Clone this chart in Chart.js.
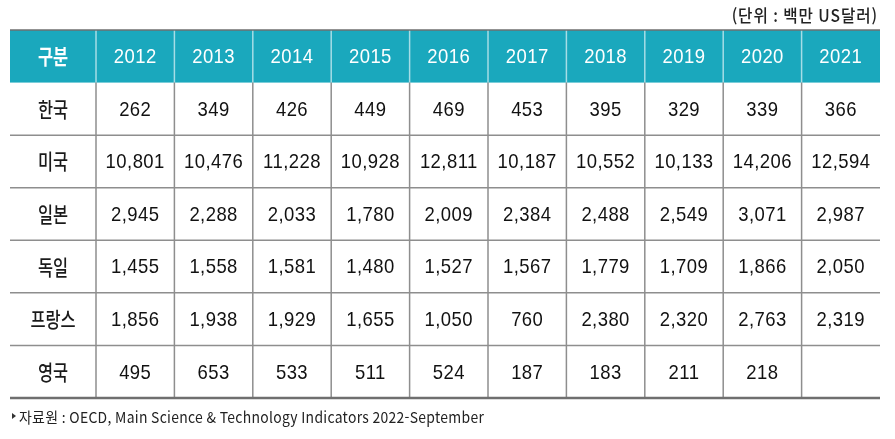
<!DOCTYPE html>
<html lang="ko">
<head>
<meta charset="utf-8">
<script src="https://cdn.jsdelivr.net/npm/chart.js@4.4.1/dist/chart.umd.min.js"></script>
<style>
  html, body { margin: 0; padding: 0; background: #fff; }
  #wrap { width: 895px; height: 439px; }
</style>
</head>
<body>
<div id="wrap"><canvas id="myChart" width="895" height="439"></canvas></div>
<script>
const headLabel = "구분"
const years = ["2012", "2013", "2014", "2015", "2016", "2017", "2018", "2019", "2020", "2021"]
const countries = ["한국", "미국", "일본", "독일", "프랑스", "영국"]
const korea   = [262, 349, 426, 449, 469, 453, 395, 329, 339, 366]
const usa     = [10801, 10476, 11228, 10928, 12811, 10187, 10552, 10133, 14206, 12594]
const japan   = [2945, 2288, 2033, 1780, 2009, 2384, 2488, 2549, 3071, 2987]
const germany = [1455, 1558, 1581, 1480, 1527, 1567, 1779, 1709, 1866, 2050]
const france  = [1856, 1938, 1929, 1655, 1050, 760, 2380, 2320, 2763, 2319]
const uk      = [495, 653, 533, 511, 524, 187, 183, 211, 218, null]
const unitText = "(단위 : 백만 US달러)"
const sourceText = "자료원 : OECD, Main Science & Technology Indicators 2022-September"

const rows = [korea, usa, japan, germany, france, uk]

const TEAL = "#1aa8bd"
const NUM_FONT = "21px 'Liberation Sans', Arial, sans-serif"
const KR_FONT = "500 21px 'Noto Sans CJK KR', sans-serif"
const LABEL_COL = 1.097  // first column is a bit wider than a year column

const fmt = v => v == null ? "" : v.toLocaleString("en-US")

// text with optional horizontal squeeze and letter spacing
function drawText(ctx, text, x, y, font, color, sx, spacing, align) {
  ctx.save()
  ctx.font = font
  ctx.fillStyle = color
  ctx.textBaseline = "middle"
  ctx.textAlign = align || "center"
  ctx.letterSpacing = (spacing || 0) + "px"
  ctx.translate(x, y)
  ctx.scale(sx || 1, 1)
  ctx.fillText(text, 0, 0)
  ctx.restore()
}

const tablePlugin = {
  id: "tablePlugin",
  afterDraw(chart) {
    const ctx = chart.ctx
    const x = chart.scales.x
    const y = chart.scales.y
    const left = x.getPixelForValue(-LABEL_COL)
    const right = x.getPixelForValue(years.length)
    const top = y.getPixelForValue(0)
    const bottom = y.getPixelForValue(countries.length + 1)
    const headBottom = y.getPixelForValue(1)

    // header background
    ctx.fillStyle = TEAL
    ctx.fillRect(left, top, right - left, headBottom - top)

    // header separators
    ctx.strokeStyle = "#a6dde6"
    ctx.lineWidth = 1.5
    for (let i = 0; i < years.length; i++) {
      const px = x.getPixelForValue(i)
      ctx.beginPath(); ctx.moveTo(px, top); ctx.lineTo(px, headBottom); ctx.stroke()
    }

    // body grid
    ctx.strokeStyle = "#8e8e8e"
    ctx.lineWidth = 1.5
    for (let i = 0; i < years.length; i++) {
      const px = x.getPixelForValue(i)
      ctx.beginPath(); ctx.moveTo(px, headBottom); ctx.lineTo(px, bottom); ctx.stroke()
    }
    for (let r = 2; r <= countries.length; r++) {
      const py = y.getPixelForValue(r)
      ctx.beginPath(); ctx.moveTo(left, py); ctx.lineTo(right, py); ctx.stroke()
    }

    // outer top and bottom rules
    ctx.strokeStyle = "#6f6f6f"
    ctx.lineWidth = 1.5
    ctx.beginPath(); ctx.moveTo(left, top); ctx.lineTo(right, top); ctx.stroke()
    ctx.lineWidth = 2.5
    ctx.beginPath(); ctx.moveTo(left, bottom); ctx.lineTo(right, bottom); ctx.stroke()

    // header text
    const labelX = (left + x.getPixelForValue(0)) / 2
    const headY = y.getPixelForValue(0.5)
    drawText(ctx, headLabel, labelX, headY, "700 21px 'Noto Sans CJK KR', sans-serif", "#fff", 0.78, 0)
    years.forEach((yr, i) => {
      drawText(ctx, yr, x.getPixelForValue(i + 0.5), headY + 1, NUM_FONT, "#fff", 0.88, 0.5)
    })

    // body
    countries.forEach((c, r) => {
      const py = y.getPixelForValue(r + 1.5)
      drawText(ctx, c, labelX, py, KR_FONT, "#1a1a1a", 0.78, 0)
      rows[r].forEach((v, i) => {
        drawText(ctx, fmt(v), x.getPixelForValue(i + 0.5), py + 1, NUM_FONT, "#111", 0.88, 0.5)
      })
    })

    // unit note and source
    drawText(ctx, unitText, right - 2, 16, "500 17px 'Noto Sans CJK KR', sans-serif", "#222", 0.92, 1, "right")
    ctx.save()
    ctx.fillStyle = "#333"
    ctx.beginPath()
    ctx.moveTo(12, 413); ctx.lineTo(16, 416); ctx.lineTo(12, 419); ctx.closePath(); ctx.fill()
    ctx.restore()
    drawText(ctx, sourceText, 19, 417, "15px 'Noto Sans CJK KR', sans-serif", "#222", 0.93, 0.3, "left")
  }
}

const myChart = new Chart(document.getElementById("myChart"), {
  type: "scatter",
  data: { datasets: [] },
  options: {
    responsive: false,
    animation: false,
    events: [],
    layout: { padding: { left: 10, right: 15, top: 30, bottom: 41 } },
    plugins: { legend: { display: false }, tooltip: { enabled: false } },
    scales: {
      x: { type: "linear", display: false, min: -LABEL_COL, max: years.length },
      y: { type: "linear", display: false, min: 0, max: countries.length + 1, reverse: true }
    }
  },
  plugins: [tablePlugin]
})
</script>
</body>
</html>
